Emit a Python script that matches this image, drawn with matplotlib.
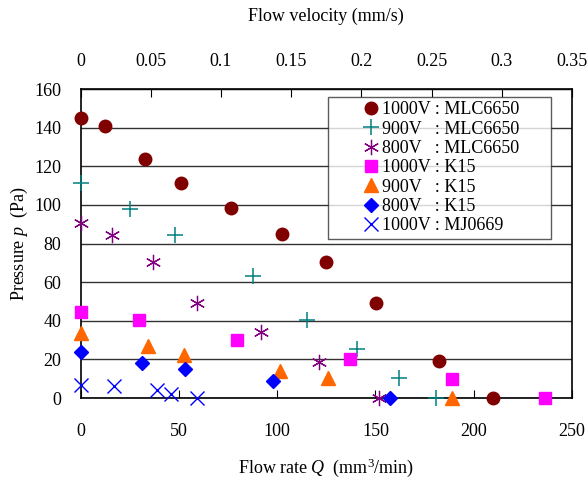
import numpy as np
import matplotlib
matplotlib.use("Agg")
import matplotlib.pyplot as plt

plt.rcParams['font.family'] = ['Liberation Serif', 'DejaVu Serif']
plt.rcParams['mathtext.fontset'] = 'custom'
plt.rcParams['mathtext.rm'] = 'Liberation Serif'
plt.rcParams['mathtext.it'] = 'Liberation Serif:italic'

# flow rate Q (mm^3/min) and pressure p (Pa) for each series
q_1000_mlc = [0, 12.4, 32.7, 51.3, 76.3, 102.5, 124.7, 150.2, 182.3, 210]
p_1000_mlc = [145, 141, 124, 111.5, 98.5, 85, 70.5, 49, 19, 0]
q_900_mlc = [0, 25, 48.1, 87.9, 115.1, 140.5, 162, 180.7]
p_900_mlc = [111.5, 98, 84.5, 63, 40.5, 25.5, 10.5, 0]
q_800_mlc = [0, 16.1, 36.7, 59, 91.9, 121.2, 151.8]
p_800_mlc = [90.5, 84.5, 70.5, 49, 34, 18.5, 0]
q_1000_k15 = [0, 29.9, 79.4, 137.2, 188.9, 236.3]
p_1000_k15 = [44.5, 40.5, 30.3, 20, 9.8, 0]
q_900_k15 = [0, 34.3, 52.8, 101.6, 126, 189]
p_900_k15 = [33.5, 27, 22.5, 14, 10.5, 0]
q_800_k15 = [0, 31.1, 53, 97.7, 157.4]
p_800_k15 = [24, 18.2, 15, 9, 0]
q_1000_mj = [0, 17, 38.9, 45.9, 59]
p_1000_mj = [7, 6, 4, 2, 0]

velocity_ticks = [0, 0.05, 0.1, 0.15, 0.2, 0.25, 0.3, 0.35]
velocity_labels = ['0', '0.05', '0.1', '0.15', '0.2', '0.25', '0.3', '0.35']

fig = plt.figure(figsize=(5.88, 4.79), dpi=100)
ax = fig.add_axes([0.137, 0.169, 0.836, 0.645])

pad = '      '  # trailing room inside the legend box
kw = dict(linestyle='none', clip_on=False, zorder=3)
ax.plot(q_1000_mlc, p_1000_mlc, marker='o', ms=9, color='#800000', label='1000V : MLC6650' + pad, **kw)
ax.plot(q_900_mlc, p_900_mlc, marker='+', ms=11, mew=1.1, color='#008080', label='900V   : MLC6650', **kw)
ax.plot(q_800_mlc, p_800_mlc, marker=(6, 2, 0), ms=11, mew=0.9, color='#800080', label='800V   : MLC6650', **kw)
ax.plot(q_1000_k15, p_1000_k15, marker='s', ms=8.5, color='#FF00FF', label='1000V : K15', **kw)
ax.plot(q_900_k15, p_900_k15, marker='^', ms=10, color='#FF6600', label='900V   : K15', **kw)
ax.plot(q_800_k15, p_800_k15, marker='D', ms=7.5, color='#0000FF', label='800V   : K15', **kw)
ax.plot(q_1000_mj, p_1000_mj, marker='x', ms=10, mew=1.0, color='#0000FF', label='1000V : MJ0669', **kw)

ax.set_xlim(0, 250)
ax.set_ylim(0, 160)
ax.set_xticks(np.arange(0, 251, 50))
ax.set_yticks(np.arange(0, 161, 20))
ax.yaxis.grid(True, color='#333333', linewidth=1.0)
ax.set_axisbelow(True)
ax.tick_params(axis='x', direction='in', length=6, labelsize=13, pad=18)
ax.tick_params(axis='y', length=0, labelsize=13, pad=14)
for s in ax.spines.values():
    s.set_linewidth(1.2)

ax.set_xlabel('Flow rate $Q$  (mm$^3$/min)', fontsize=13, labelpad=12)
ax.set_ylabel('Pressure $p$  (Pa)', fontsize=13, labelpad=3)

top = ax.secondary_xaxis('top', functions=(lambda q: q * 0.35 / 250, lambda v: v * 250 / 0.35))
top.set_xticks(velocity_ticks)
top.set_xticklabels(velocity_labels)
top.tick_params(direction='in', length=6, labelsize=13, pad=14)
top.set_xlabel('Flow velocity (mm/s)', fontsize=13, labelpad=23)

leg = ax.legend(loc='upper left', bbox_to_anchor=(0.504, 0.975), fontsize=13, frameon=True,
                fancybox=False, edgecolor='#333333', handlelength=4.2, handletextpad=-1.47,
                labelspacing=0.13, borderpad=0.25, borderaxespad=0)
leg.get_frame().set_linewidth(1.0)

fig.savefig('out.png', dpi=100)
